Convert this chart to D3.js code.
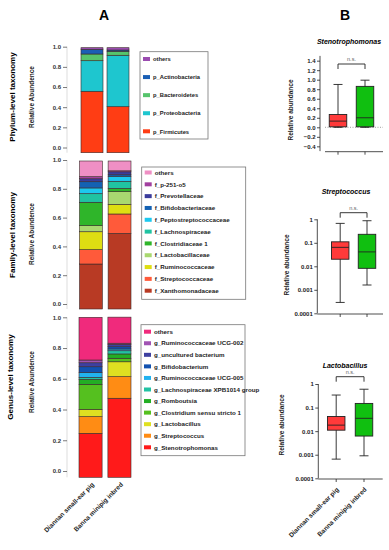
<!DOCTYPE html>
<html>
<head>
<meta charset="utf-8">
<script src="https://cdn.jsdelivr.net/npm/d3@7"></script>
<style>
body{margin:0;background:#fff}
svg{display:block;font-family:"Liberation Sans",Arial,sans-serif}
</style>
</head>
<body>
<div id="chart"></div>
<script>
var groups = ["Diannan small-ear pig", "Banna minipig inbred"];
var stackTicks = [0, 0.2, 0.4, 0.6, 0.8, 1.0];

// stacked bars, listed bottom -> top; values per group [Diannan, Banna]
var phylumTaxa = ["p_Firmicutes", "p_Proteobacteria", "p_Bacteroidetes", "p_Actinobacteria", "others"];
var phylumColors = ["#ff3d14", "#1ec6cf", "#56c46c", "#1a5fb5", "#9a4cb0"];
var phylumDiannan = [0.585, 0.291, 0.064, 0.045, 0.015];
var phylumBanna = [0.438, 0.490, 0.038, 0.012, 0.022];

var familyTaxa = ["f_Xanthomonadaceae", "f_Streptococcaceae", "f_Ruminococcaceae", "f_Lactobacillaceae", "f_Clostridiaceae 1",
  "f_Lachnospiraceae", "f_Peptostreptococcaceae", "f_Bifidobacteriaceae", "f_Prevotellaceae", "f_p-251-o5", "others"];
var familyColors = ["#b83a24", "#ff5a3a", "#dede12", "#a9d870", "#2fb52a", "#20c3a2", "#1dc8ef", "#1461b3", "#3b3c9c", "#a2409f", "#ef8fc4"];
var familyDiannan = [0.304, 0.097, 0.121, 0.041, 0.158, 0.058, 0.039, 0.042, 0.020, 0.014, 0.106];
var familyBanna = [0.511, 0.131, 0.065, 0.086, 0.022, 0.048, 0.034, 0.010, 0.020, 0.007, 0.066];

var genusTaxa = ["g_Stenotrophomonas", "g_Streptococcus", "g_Lactobacillus", "g_Clostridium sensu stricto 1", "g_Romboutsia",
  "g_Lachnospiraceae XPB1014 group", "g_Ruminococcaceae UCG-005", "g_Bifidobacterium", "g_uncultured bacterium", "g_Ruminococcaceae UCG-002", "others"];
var genusColors = ["#ff1a1a", "#ff8c14", "#dfe021", "#55c01f", "#23ae24", "#22c2a3", "#22b2f0", "#1252b0", "#3e40a0", "#a153b3", "#f02a7c"];
var genusDiannan = [0.275, 0.104, 0.046, 0.156, 0.031, 0.013, 0.029, 0.037, 0.025, 0.017, 0.267];
var genusBanna = [0.494, 0.135, 0.093, 0.022, 0.027, 0.020, 0.011, 0.014, 0.015, 0.007, 0.163];

// box plots: [min, q1, median, q3, max] per group
var boxTitles = ["Stenotrophomonas", "Streptococcus", "Lactobacillus"];
var stenoBoxes = [[0.0, 0.01, 0.13, 0.27, 0.90], [0.0, 0.01, 0.20, 0.86, 0.99]];
var streptoBoxes = [[0.00029, 0.02, 0.064, 0.11, 0.67], [0.0016, 0.0082, 0.041, 0.23, 0.87]];
var lactoBoxes = [[0.00065, 0.011, 0.018, 0.042, 0.34], [0.0009, 0.0062, 0.035, 0.15, 0.6]];
var linearTicks = [-0.4, -0.2, 0.0, 0.2, 0.4, 0.6, 0.8, 1.0, 1.2, 1.4];
var logTicks = [0.0001, 0.001, 0.01, 0.1, 1];
var boxColors = ["#ff3a3a", "#10bf10"];

var svg = d3.select("#chart").append("svg").attr("width", 389).attr("height", 550);

svg.append("text").attr("x", 104).attr("y", 19.5).attr("text-anchor", "middle").attr("font-size", 14).attr("font-weight", "bold").text("A");
svg.append("text").attr("x", 345).attr("y", 19.5).attr("text-anchor", "middle").attr("font-size", 14).attr("font-weight", "bold").text("B");

function stackPanel(p) {
  var g = svg.append("g");
  var x = d3.scaleBand().domain(groups).range([p.x0, p.x1]).paddingInner(p.pad);
  var yAxis = d3.scaleLinear().domain([0, 1]).range([p.tick0, p.tick1]);
  var yBar = d3.scaleLinear().domain([0, 1]).range([p.bar0, p.bar1]);
  var rows = groups.map(function(name, i) {
    var r = {group: name};
    p.taxa.forEach(function(t, j) { r[t] = p.values[i][j]; });
    return r;
  });
  var series = d3.stack().keys(p.taxa)(rows);
  g.selectAll("g.s").data(series).join("g").attr("class", "s").attr("fill", function(d, i) { return p.colors[i]; })
    .selectAll("rect").data(function(d) { return d; }).join("rect")
    .attr("x", function(d) { return x(d.data.group); }).attr("width", x.bandwidth())
    .attr("y", function(d) { return yBar(d[1]); }).attr("height", function(d) { return yBar(d[0]) - yBar(d[1]); })
    .attr("stroke", "#3a2a2a").attr("stroke-width", 0.6);

  var ax = g.append("g").attr("transform", "translate(67,0)")
    .call(d3.axisLeft(yAxis).tickValues(stackTicks).tickFormat(d3.format(".1f")).tickSize(4).tickPadding(2));
  ax.select(".domain").attr("stroke", "#bbb").attr("stroke-width", 0.5).attr("d", "M0," + yAxis(1) + "V" + p.bar0);
  ax.selectAll(".tick line").attr("stroke", "#444").attr("stroke-width", 0.7);
  ax.selectAll(".tick text").attr("font-size", 6).attr("font-weight", "bold").attr("fill", "#333").attr("font-family", "Liberation Sans, Arial");

  var cy = (p.tick0 + p.tick1) / 2;
  g.append("text").attr("transform", "translate(" + p.lvlX + "," + p.lvlY + ") rotate(-90)").attr("text-anchor", "middle")
    .attr("font-size", 8).attr("font-weight", "bold").text(p.level);
  g.append("text").attr("transform", "translate(33.5," + p.relY + ") rotate(-90)").attr("text-anchor", "middle")
    .attr("font-size", 6.5).attr("font-weight", "bold").attr("fill", "#222").text("Relative Abundence");

  // legend, top item = last taxon
  var lg = g.append("g");
  lg.append("rect").attr("x", p.lx).attr("y", p.ly0).attr("width", p.lw).attr("height", p.ly1 - p.ly0)
    .attr("fill", "none").attr("stroke", "#777").attr("stroke-width", 0.8);
  var items = p.taxa.slice().reverse();
  var cols = p.colors.slice().reverse();
  var ly = d3.scalePoint().domain(items).range([p.iy0, p.iy1]);
  var it = lg.selectAll("g.it").data(items).join("g").attr("class", "it")
    .attr("transform", function(d) { return "translate(" + p.lx + "," + ly(d) + ")"; });
  it.append("rect").attr("x", 3).attr("y", -2).attr("width", 7).attr("height", 4).attr("fill", function(d, i) { return cols[i]; });
  it.append("text").attr("x", 13).attr("y", 2.2).attr("font-size", p.fs).attr("font-weight", "bold").attr("fill", "#222").text(function(d) { return d; });
  return x;
}

stackPanel({taxa: phylumTaxa, colors: phylumColors, values: [phylumDiannan, phylumBanna], x0: 81, x1: 129, pad: 0.154,
  tick0: 147.5, tick1: 46.7, bar0: 152.7, bar1: 47.7, level: "Phylum-level taxonomy", lvlX: 15, lvlY: 97, relY: 97,
  lx: 140, lw: 68, ly0: 51.7, ly1: 139, iy0: 59, iy1: 131.3, fs: 5.8});
stackPanel({taxa: familyTaxa, colors: familyColors, values: [familyDiannan, familyBanna], x0: 79.5, x1: 131, pad: 0.2,
  tick0: 304, tick1: 160, bar0: 309, bar1: 161, level: "Family-level taxonomy", lvlX: 15, lvlY: 235, relY: 234,
  lx: 141.7, lw: 104, ly0: 167, ly1: 299.3, iy0: 172.5, iy1: 290.7, fs: 6.2});
var xg = stackPanel({taxa: genusTaxa, colors: genusColors, values: [genusDiannan, genusBanna], x0: 79, x1: 131, pad: 0.2,
  tick0: 471, tick1: 317.3, bar0: 477.3, bar1: 317.3, level: "Genus-level taxonomy", lvlX: 13, lvlY: 377, relY: 382,
  lx: 141, lw: 104, ly0: 324.7, ly1: 455.7, iy0: 331.7, iy1: 447.3, fs: 6.2});

svg.append("g").selectAll("text").data(groups).join("text")
  .attr("transform", function(d) { return "translate(" + (xg(d) + xg.bandwidth() / 2 + 4) + ",485) rotate(-45)"; })
  .attr("text-anchor", "end").attr("font-size", 6.5).attr("font-weight", "bold").attr("fill", "#222").text(function(d) { return d; });

function boxPanel(p) {
  var g = svg.append("g");
  var x = d3.scalePoint().domain(groups).range([p.c0, p.c1]);
  var y = p.log ? d3.scaleLog().domain([1e-4, 1]).range([p.yb, p.yt]) : d3.scaleLinear().domain([-0.5, 1.5]).range([p.yb, p.yt]);
  var bw = 17.5;

  g.append("text").attr("x", p.tx).attr("y", p.ty).attr("text-anchor", "middle").attr("font-size", 7)
    .attr("font-weight", "bold").attr("font-style", "italic").text(p.title);

  var ax = g.append("g").attr("transform", "translate(" + p.ax + ",0)")
    .call(d3.axisLeft(y).tickValues(p.ticks).tickFormat(p.fmt).tickSize(3).tickPadding(1.5));
  ax.select(".domain").attr("stroke", "#222").attr("stroke-width", 0.8).attr("d", "M0," + y.range()[1] + "V" + y.range()[0]);
  ax.selectAll(".tick line").attr("stroke", "#222").attr("stroke-width", 0.8);
  ax.selectAll(".tick text").attr("font-size", 6).attr("font-weight", "bold").attr("fill", "#222").attr("font-family", "Liberation Sans, Arial");

  g.append("line").attr("x1", p.xl0).attr("x2", p.xl1).attr("y1", p.xaY).attr("y2", p.xaY).attr("stroke", "#222").attr("stroke-width", 0.8);
  g.selectAll("line.xt").data(groups).join("line").attr("class", "xt")
    .attr("x1", function(d) { return x(d); }).attr("x2", function(d) { return x(d); })
    .attr("y1", p.xaY).attr("y2", p.xaY + 3).attr("stroke", "#222").attr("stroke-width", 0.8);

  if (!p.log) {
    g.append("line").attr("x1", p.xl0).attr("x2", p.xl1).attr("y1", y(0)).attr("y2", y(0))
      .attr("stroke", "#888").attr("stroke-width", 0.8).attr("stroke-dasharray", "1,1.5");
  }

  var b = g.selectAll("g.box").data(p.stats).join("g").attr("class", "box");
  b.append("line").attr("x1", function(d, i) { return x(groups[i]); }).attr("x2", function(d, i) { return x(groups[i]); })
    .attr("y1", function(d) { return y(d[4]); }).attr("y2", function(d) { return y(d[0]); }).attr("stroke", "#222").attr("stroke-width", 0.9);
  b.append("rect").attr("x", function(d, i) { return x(groups[i]) - bw / 2; }).attr("width", bw)
    .attr("y", function(d) { return y(d[3]); }).attr("height", function(d) { return y(d[1]) - y(d[3]); })
    .attr("fill", function(d, i) { return boxColors[i]; }).attr("stroke", "#222").attr("stroke-width", 0.9);
  b.append("line").attr("x1", function(d, i) { return x(groups[i]) - bw / 2; }).attr("x2", function(d, i) { return x(groups[i]) + bw / 2; })
    .attr("y1", function(d) { return y(d[2]); }).attr("y2", function(d) { return y(d[2]); }).attr("stroke", "#222").attr("stroke-width", 0.9);
  [0, 4].forEach(function(k) {
    b.append("line").attr("x1", function(d, i) { return x(groups[i]) - 4.5; }).attr("x2", function(d, i) { return x(groups[i]) + 4.5; })
      .attr("y1", function(d) { return y(d[k]); }).attr("y2", function(d) { return y(d[k]); }).attr("stroke", "#222").attr("stroke-width", 0.9);
  });

  g.append("path").attr("d", "M" + x(groups[0]) + "," + (p.brY + 5) + "V" + p.brY + "H" + x(groups[1]) + "V" + (p.brY + 5))
    .attr("fill", "none").attr("stroke", "#222").attr("stroke-width", 0.9);
  g.append("text").attr("x", (x(groups[0]) + x(groups[1])) / 2).attr("y", p.brY - 3).attr("text-anchor", "middle")
    .attr("font-size", 5.5).attr("fill", "#666").text("n.s.");

  g.append("text").attr("transform", "translate(" + p.rx + "," + p.ry + ") rotate(-90)").attr("text-anchor", "middle")
    .attr("font-size", 6.5).attr("fill", "#222").attr("font-weight", "bold").text("Relative abundance");
  return x;
}

var logFmt = function(d) { return String(d); };
boxPanel({title: boxTitles[0], stats: stenoBoxes, log: false, ticks: linearTicks, fmt: d3.format(".1f"),
  c0: 338, c1: 365, yb: 151.1, yt: 55.9, ax: 320, xl0: 325, xl1: 383, xaY: 151.7, brY: 64, tx: 349, ty: 44, rx: 293, ry: 110});
boxPanel({title: boxTitles[1], stats: streptoBoxes, log: true, ticks: logTicks, fmt: logFmt,
  c0: 340.2, c1: 367, yb: 313.3, yt: 219.3, ax: 317.3, xl0: 317.3, xl1: 383, xaY: 314, brY: 212.7, tx: 346, ty: 194, rx: 288.5, ry: 265});
var xb = boxPanel({title: boxTitles[2], stats: lactoBoxes, log: true, ticks: logTicks, fmt: logFmt,
  c0: 336.2, c1: 364, yb: 478.3, yt: 384, ax: 318.3, xl0: 318.3, xl1: 382.7, xaY: 479, brY: 376.7, tx: 345, ty: 368, rx: 283.5, ry: 425});

svg.append("g").selectAll("text").data(groups).join("text")
  .attr("transform", function(d) { return "translate(" + (xb(d) + 3) + ",490) rotate(-45)"; })
  .attr("text-anchor", "end").attr("font-size", 6.5).attr("font-weight", "bold").attr("fill", "#222").text(function(d) { return d; });
</script>
</body>
</html>
